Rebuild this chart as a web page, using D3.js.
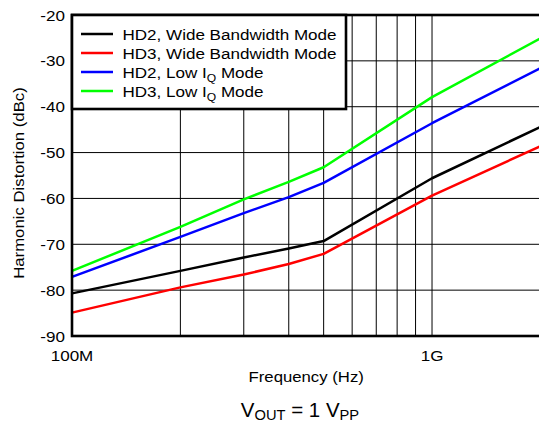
<!DOCTYPE html>
<html>
<head>
<meta charset="utf-8">
<script src="https://cdn.jsdelivr.net/npm/d3@7"></script>
<style>
  html, body { margin: 0; padding: 0; background: #fff; }
  svg { display: block; font-family: Arial, "Liberation Sans", sans-serif; }
</style>
</head>
<body>
<svg id="chart" width="539" height="422"></svg>
<script>
// Frequency points (Hz)
const freqs = [1e8, 2e8, 3e8, 4e8, 5e8, 1e9, 2e9];

// Harmonic distortion (dBc) per series
const hd2Wide = [-80.7, -75.8, -72.9, -70.9, -69.3, -55.6, -44.4];
const hd3Wide = [-84.9, -79.4, -76.6, -74.3, -72.1, -59.4, -48.6];
const hd2LowIq = [-77.1, -68.4, -63.2, -59.7, -56.6, -43.6, -31.6];
const hd3LowIq = [-75.8, -66.2, -60.2, -56.4, -53.2, -37.9, -25.1];

const seriesNames = ["HD2, Wide Bandwidth Mode", "HD3, Wide Bandwidth Mode", "HD2, Low I|Q| Mode", "HD3, Low I|Q| Mode"];
const seriesColors = ["#000000", "#ff0000", "#0000ff", "#00ff00"];
const seriesValues = [hd2Wide, hd3Wide, hd2LowIq, hd3LowIq];

const yTicks = [-20, -30, -40, -50, -60, -70, -80, -90];
const xGrid = [2e8, 3e8, 4e8, 5e8, 6e8, 7e8, 8e8, 9e8, 1e9];
const xTickLabels = [{ v: 1e8, t: "100M" }, { v: 1e9, t: "1G" }];

const svg = d3.select("#chart");
const plotL = 72, plotR = 540.4, plotT = 15, plotB = 336;

const x = d3.scaleLog().domain([1e8, 2e9]).range([plotL, plotR]);
const y = d3.scaleLinear().domain([-90, -20]).range([plotB, plotT]);

// Stretched text helper (the labels use a slightly wide face)
function label(g, px, py, txt, size, anchor, sx) {
  const t = g.append("g").attr("transform", `translate(${px},${py}) scale(${sx || 1.1},1)`)
    .append("text")
    .attr("font-size", size)
    .attr("text-anchor", anchor || "start")
    .attr("fill", "#000");
  return t.text(txt);
}

// Grid
const grid = svg.append("g");
grid.selectAll("line.h").data(yTicks.slice(1, -1)).join("line")
  .attr("x1", plotL).attr("x2", plotR)
  .attr("y1", d => y(d)).attr("y2", d => y(d))
  .attr("stroke", "#000").attr("stroke-width", 1);
grid.selectAll("line.v").data(xGrid).join("line")
  .attr("x1", d => x(d)).attr("x2", d => x(d))
  .attr("y1", plotT).attr("y2", plotB)
  .attr("stroke", "#000").attr("stroke-width", 1);

// Series lines
const line = d3.line().x((d, i) => x(freqs[i])).y(d => y(d));
svg.append("g").selectAll("path").data(seriesValues).join("path")
  .attr("d", d => line(d))
  .attr("fill", "none")
  .attr("stroke", (d, i) => seriesColors[i])
  .attr("stroke-width", 2.5)
  .attr("stroke-linejoin", "round");

// Frame
svg.append("rect")
  .attr("x", plotL).attr("y", plotT)
  .attr("width", plotR - plotL).attr("height", plotB - plotT)
  .attr("fill", "none").attr("stroke", "#000").attr("stroke-width", 2.6);

// Y axis labels
const yLab = svg.append("g");
yTicks.forEach(v => label(yLab, 65, y(v) + 5.5, v, 15.5, "end"));

// X axis labels
xTickLabels.forEach(d => label(svg, x(d.v), 361, d.t, 15.5, "middle"));

// Axis titles
label(svg, (plotL + plotR) / 2, 382, "Frequency (Hz)", 15.5, "middle", 1.08);
svg.append("g").attr("transform", "translate(24,183) rotate(-90) scale(1.08,1)")
  .append("text").attr("font-size", 15.5).attr("text-anchor", "middle")
  .text("Harmonic Distortion (dBc)");

// Legend
const lg = svg.append("g");
lg.append("rect").attr("x", plotL).attr("y", plotT).attr("width", 346 - plotL).attr("height", 109 - plotT)
  .attr("fill", "#fff").attr("stroke", "#000").attr("stroke-width", 2.6);
seriesNames.forEach((name, i) => {
  const ly = 34 + i * 19;
  lg.append("line").attr("x1", 81).attr("x2", 113).attr("y1", ly).attr("y2", ly)
    .attr("stroke", seriesColors[i]).attr("stroke-width", 2.5);
  const t = lg.append("g").attr("transform", `translate(122.5,${ly + 5.5}) scale(1.1,1)`)
    .append("text").attr("font-size", 15.5);
  const parts = name.split("|");
  parts.forEach((p, k) => {
    const ts = t.append("tspan").text(p);
    if (k === 1) ts.attr("font-size", 11).attr("dy", 4);
    if (k === 2) ts.attr("dy", -4);
  });
});

// Condition note
const note = svg.append("g").attr("transform", "translate(300,417) scale(1.05,1)")
  .append("text").attr("font-size", 19.5).attr("text-anchor", "middle");
note.append("tspan").text("V");
note.append("tspan").text("OUT").attr("font-size", 14).attr("dy", 3);
note.append("tspan").text(" = 1 V").attr("dy", -3);
note.append("tspan").text("PP").attr("font-size", 14).attr("dy", 3);
</script>
</body>
</html>
